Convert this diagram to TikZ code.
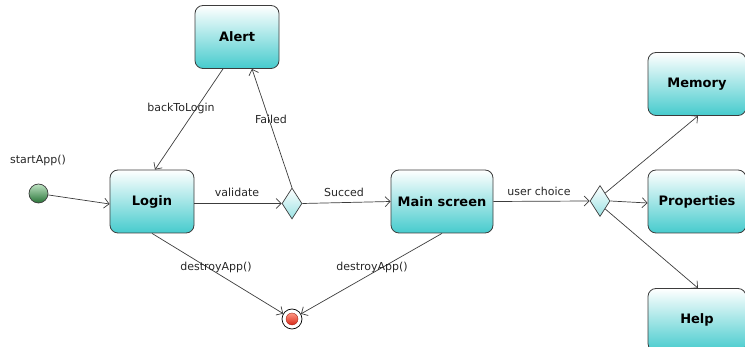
\documentclass[tikz,border=0pt]{standalone}
\usepackage{fontspec}
\setmainfont{DejaVu Sans}
\usetikzlibrary{arrows.meta,shapes.geometric}
\definecolor{stateteal}{RGB}{70,203,205}
\definecolor{edgegray}{RGB}{60,60,60}
\definecolor{startlight}{RGB}{190,228,195}
\definecolor{startdark}{RGB}{40,115,55}
\definecolor{endlight}{RGB}{255,150,130}
\definecolor{enddark}{RGB}{215,40,25}
\tikzset{
  x=1pt, y=-1pt,
  statebox/.style={draw=edgegray, line width=0.8pt, rounded corners=8pt,
    top color=white, bottom color=stateteal, inner sep=0pt,
    minimum width=84pt, minimum height=63pt,
    font=\bfseries\fontsize{13}{15}\selectfont},
  widebox/.style={statebox, minimum width=98pt},
  choice/.style={diamond, draw=edgegray, line width=0.7pt, inner sep=0pt,
    top color=white, bottom color=stateteal!55,
    minimum width=20pt, minimum height=31pt},
  flow/.style={draw=edgegray, line width=0.7pt,
    -{Straight Barb[length=5pt,width=10pt]}},
  lbl/.style={font=\fontsize{11}{13}\selectfont, text=black!85, inner sep=1pt},
}
\begin{document}
\begin{tikzpicture}
\useasboundingbox (0,0) rectangle (745,347);
\clip (0,0) rectangle (745,347);

% states
\node[statebox] (alert) at (237,37) {Alert};
\node[statebox] (login) at (152,201.5) {Login};
\node[statebox, minimum width=102pt] (main) at (442,201.5) {Main screen};
\node[widebox] (memory) at (697,84) {Memory};
\node[widebox] (props) at (697,201.5) {Properties};
\node[widebox] (help) at (697,320) {Help};

% initial and final pseudo states
\node[circle, draw=edgegray, line width=0.7pt, inner sep=0pt, minimum size=19pt,
      top color=startlight, bottom color=startdark] (start) at (38.5,193.5) {};
\node[circle, draw=black, line width=0.7pt, fill=white, inner sep=0pt,
      minimum size=20pt] (end) at (292,319) {};
\node[circle, inner sep=0pt, minimum size=12pt, draw=enddark!70!black, line width=0.3pt,
      top color=endlight, bottom color=enddark] (enddot) at (end) {};

% choice points
\node[choice] (d1) at (292,203.5) {};
\node[choice] (d2) at (600,201) {};

% transitions
\draw[flow] (start) -- (login.west |- 0,204);
\draw[flow] (alert.south -| 223,0) -- (login.north -| 155,0);
\draw[flow] (d1.north) -- (alert.south -| 252,0);
\draw[flow] (login.east |- d1) -- (d1.west);
\draw[flow] (d1.east) -- (main.west);
\draw[flow] (main.east) -- (d2.west);
\draw[flow] (d2.north east) -- (memory.south -| 698,0);
\draw[flow] (d2.east) -- (props.west |- 0,203);
\draw[flow] (d2.south east) -- (help.north -| 698,0);
\draw[flow] (login.south) -- (end);
\draw[flow] (main.south) -- (end);

% transition labels
\node[lbl] (lstart) at (38,160) {startApp()};
\node[lbl] (lback) at (181,108) {backToLogin};
\node[lbl] (lfail) at (271,119) {Failed};
\node[lbl] (lvalid) at (237,192) {validate};
\node[lbl] (lsucc) at (344,192) {Succed};
\node[lbl] (luser) at (539,191) {user choice};
\node[lbl] (ldest1) at (216,267) {destroyApp()};
\node[lbl] (ldest2) at (372,267) {destroyApp()};
\end{tikzpicture}
\end{document}
